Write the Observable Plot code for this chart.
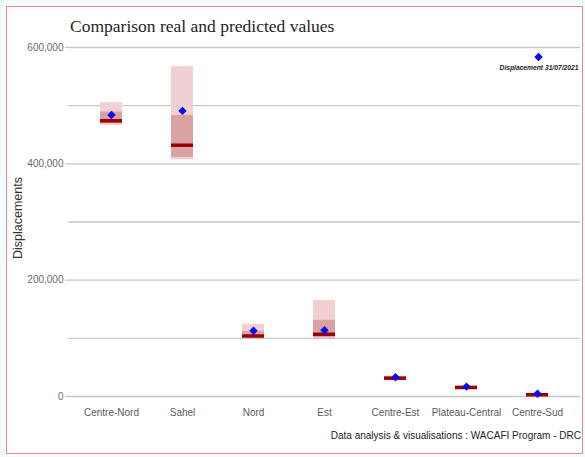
<!DOCTYPE html>
<html>
<head>
<meta charset="utf-8">
<script src="https://cdn.jsdelivr.net/npm/d3@7"></script>
<script src="https://cdn.jsdelivr.net/npm/@observablehq/plot@0.6"></script>
<style>
  html, body { margin: 0; padding: 0; background: #f3fbfb; }
  #wrap { position: relative; width: 585px; height: 457px; overflow: hidden; }
  #frame { position: absolute; left: 6px; top: 6px; width: 577px; height: 448px; border: 1px solid #e7879a; background: #ffffff; box-sizing: border-box; }
  #chart { position: absolute; left: 0; top: 0; }
  #title { position: absolute; left: 70px; top: 16px; font-family: "Liberation Serif", "Times New Roman", serif; font-size: 17.5px; color: #1e1e1e; white-space: nowrap; }
  #ylabel { position: absolute; left: 18px; top: 218px; transform: translate(-50%, -50%) rotate(-90deg); font-family: "Liberation Sans", Arial, sans-serif; font-size: 12.5px; color: #333; white-space: nowrap; }
  #caption { position: absolute; right: 4px; top: 430px; font-family: "Liberation Sans", Arial, sans-serif; font-size: 10px; color: #222; white-space: nowrap; }
  #legend { position: absolute; left: 539px; top: 54px; transform: translateX(-50%); text-align: center; font-family: "Liberation Sans", Arial, sans-serif; font-size: 6.7px; font-weight: bold; font-style: italic; color: #222; white-space: nowrap; }
  #legend .dia { display: block; margin: 0 auto; width: 6px; height: 6px; background: #0a0af5; transform: rotate(45deg); }
  #legend .lbl { display: block; margin-top: 4px; }
</style>
</head>
<body>
<div id="wrap">
  <div id="frame"></div>
  <div id="chart"></div>
  <div id="title">Comparison real and predicted values</div>
  <div id="ylabel">Displacements</div>
  <div id="legend"><span class="dia"></span><span class="lbl">Displacement 31/07/2021</span></div>
  <div id="caption">Data analysis &amp; visualisations : WACAFI Program - DRC</div>
</div>
<script>
const regions = ["Centre-Nord", "Sahel", "Nord", "Est", "Centre-Est", "Plateau-Central", "Centre-Sud"];
const outerLow  = [466000, 407000, 101000, 100000, 29000, 13500, 1000];
const outerHigh = [505000, 567000, 124000, 165000, 35000, 18500, 6000];
const innerLow  = [469000, 411000, 102000, 101000, 30000, 14500, 1800];
const innerHigh = [489000, 483000, 112000, 131000, 33500, 17000, 4500];
const predicted = [474000, 432000, 104000, 107000, 31500, 15500, 3000];
const real      = [484000, 491000, 113000, 114000, 33000, 17000, 4600];
const gridTicks = [0, 100000, 200000, 300000, 400000, 500000, 600000];
const labelTicks = [0, 200000, 400000, 600000];

const data = regions.map((r, i) => ({
  region: r, lo: outerLow[i], hi: outerHigh[i], ilo: innerLow[i], ihi: innerHigh[i],
  pred: predicted[i], real: real[i]
}));

const chart = Plot.plot({
  width: 585,
  height: 457,
  marginTop: 47,
  marginBottom: 61,
  marginLeft: 68,
  marginRight: 5,
  style: { fontFamily: "Liberation Sans, Arial, sans-serif", background: "transparent" },
  x: { type: "band", domain: regions, paddingInner: 0.69, paddingOuter: 0.445, label: null },
  y: { domain: [0, 600000], label: null },
  marks: [
    Plot.ruleY(gridTicks, { stroke: "#c6c6c6", strokeWidth: 1.4 }),
    Plot.axisY(labelTicks, { tickFormat: d3.format(","), tickSize: 3, tickPadding: 2, stroke: "#bbbbbb", color: "#6b6b6b", fontSize: 10, label: null }),
    Plot.axisX({ tickSize: 0, tickPadding: 12, fontSize: 10, color: "#5a5a5a", label: null }),
    Plot.barY(data, { x: "region", y1: "lo", y2: "hi", fill: "#f0d0d0" }),
    Plot.barY(data, { x: "region", y1: "ilo", y2: "ihi", fill: "#d9a3a3" }),
    Plot.tickY(data, { x: "region", y: "pred", stroke: "#9a0000", strokeWidth: 3.5 }),
    Plot.dot(data, { x: "region", y: "real", symbol: "diamond2", r: 3.8, fill: "#0a0af5", stroke: "none" })
  ]
});
document.getElementById("chart").appendChild(chart);
</script>
</body>
</html>
